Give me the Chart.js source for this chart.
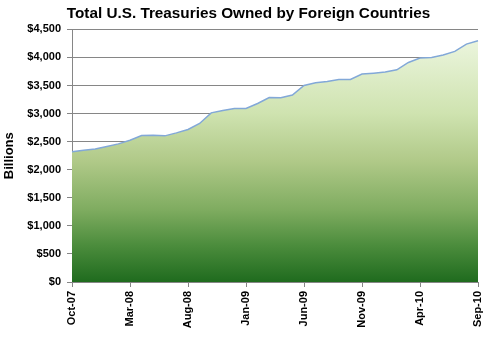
<!DOCTYPE html>
<html>
<head>
<meta charset="utf-8">
<script src="https://cdn.jsdelivr.net/npm/chart.js@4/dist/chart.umd.min.js"></script>
<style>
  html, body { margin: 0; padding: 0; background: #fff; }
  #wrap { width: 497px; height: 337px; }
</style>
</head>
<body>
<div id="wrap"><canvas id="treasuryChart" width="497" height="337"></canvas></div>
<script>
// monthly, Oct-07 .. Sep-10
const months = [
  'Oct-07', 'Nov-07', 'Dec-07', 'Jan-08', 'Feb-08', 'Mar-08', 'Apr-08', 'May-08', 'Jun-08',
  'Jul-08', 'Aug-08', 'Sep-08', 'Oct-08', 'Nov-08', 'Dec-08', 'Jan-09', 'Feb-09', 'Mar-09',
  'Apr-09', 'May-09', 'Jun-09', 'Jul-09', 'Aug-09', 'Sep-09', 'Oct-09', 'Nov-09', 'Dec-09',
  'Jan-10', 'Feb-10', 'Mar-10', 'Apr-10', 'May-10', 'Jun-10', 'Jul-10', 'Aug-10', 'Sep-10'
];
const holdings = [
  2318, 2348, 2371, 2414, 2460, 2526, 2610, 2615, 2603,
  2656, 2717, 2824, 3013, 3056, 3091, 3091, 3180, 3287,
  3280, 3329, 3501, 3548, 3573, 3608, 3608, 3703, 3720,
  3739, 3780, 3911, 3988, 4000, 4042, 4108, 4238, 4297
];
const yTicks = [0, 500, 1000, 1500, 2000, 2500, 3000, 3500, 4000, 4500];
const labelEvery = 5;

const axisGray = '#868686';
const boldFont = { family: 'Liberation Sans', size: 11, weight: 'bold' };

function areaGradient(context) {
  const chart = context.chart;
  const area = chart.chartArea;
  if (!area) return '#a9c27e';
  const yScale = chart.scales.y;
  const top = yScale.getPixelForValue(Math.max(...holdings));
  const bottom = yScale.getPixelForValue(0);
  const g = chart.ctx.createLinearGradient(0, top, 0, bottom);
  g.addColorStop(0, '#ebf5dd');
  g.addColorStop(0.3, '#cfe3b0');
  g.addColorStop(0.5, '#b0c988');
  g.addColorStop(0.7, '#7fac60');
  g.addColorStop(0.85, '#4b8c3c');
  g.addColorStop(1, '#1f6b1e');
  return g;
}

const ctx = document.getElementById('treasuryChart').getContext('2d');
const treasuryChart = new Chart(ctx, {
  type: 'line',
  data: {
    labels: months,
    datasets: [{
      label: 'Foreign holdings',
      data: holdings,
      fill: 'origin',
      backgroundColor: areaGradient,
      borderColor: '#82a8d8',
      borderWidth: 1.5,
      pointRadius: 0,
      tension: 0
    }]
  },
  options: {
    responsive: false,
    animation: false,
    layout: { padding: 0 },
    plugins: {
      legend: { display: false },
      tooltip: { enabled: false },
      title: {
        display: true,
        text: 'Total U.S. Treasuries Owned by Foreign Countries',
        color: '#000',
        font: { family: 'Liberation Sans', size: 15.3, weight: 'bold' },
        padding: { top: 5, bottom: 6 }
      }
    },
    scales: {
      x: {
        offset: false,
        border: { display: true, color: axisGray, width: 1 },
        grid: { drawOnChartArea: false, drawTicks: true, tickLength: 5, color: axisGray },
        ticks: {
          autoSkip: false,
          minRotation: 90,
          maxRotation: 90,
          padding: 4,
          color: '#000',
          font: boldFont,
          callback: function(value, index) {
            return index % labelEvery === 0 ? months[index] : null;
          }
        },
        afterFit: function(scale) { scale.height = 55; }
      },
      y: {
        min: 0,
        max: 4500,
        border: { display: true, color: axisGray, width: 1 },
        grid: { color: axisGray, tickLength: 5, drawTicks: true },
        afterBuildTicks: function(scale) {
          scale.ticks = yTicks.map(v => ({ value: v }));
        },
        ticks: {
          padding: 6,
          color: '#000',
          font: boldFont,
          callback: function(value) { return '$' + value.toLocaleString('en-US'); }
        },
        title: {
          display: true,
          text: 'Billions',
          color: '#000',
          font: { family: 'Liberation Sans', size: 13, weight: 'bold' },
          padding: { top: 2, bottom: 0 }
        },
        afterFit: function(scale) { scale.width = 72; }
      },
      // empty right-hand spacer so the title stays centred on the page
      yRight: {
        position: 'right',
        display: true,
        min: 0,
        max: 4500,
        border: { display: false },
        grid: { display: false },
        ticks: { display: false },
        afterFit: function(scale) { scale.width = 19; }
      }
    }
  }
});
</script>
</body>
</html>
